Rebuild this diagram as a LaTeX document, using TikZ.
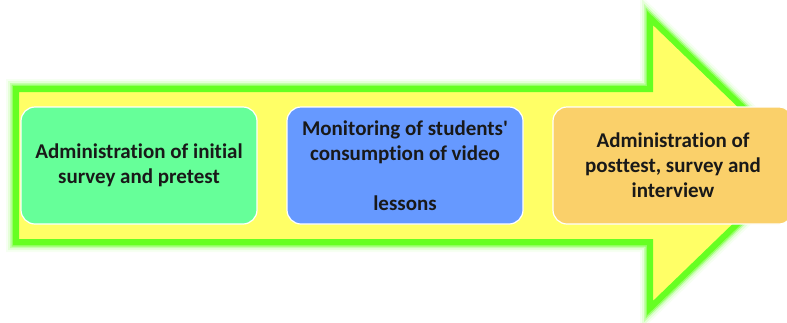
\documentclass[tikz,border=0pt]{standalone}
\usepackage{fontspec}
\setmainfont{Carlito}[Ligatures={NoCommon}]
\begin{document}
\begin{tikzpicture}[x=1pt,y=-1pt,
  glowline/.style={draw=arrowgreen, line join=miter},
  stagebox/.style={rounded corners=14pt, draw=white, line width=1.2pt,
    minimum width=236pt, minimum height=117pt, align=center,
    font=\bfseries\fontsize{21}{25}\selectfont, text=black!90, inner sep=0pt},
]
\definecolor{arrowgreen}{HTML}{66FF22}
\definecolor{arrowyellow}{HTML}{FFFF66}
\definecolor{boxgreen}{HTML}{66FF99}
\definecolor{boxblue}{HTML}{6699FF}
\definecolor{boxorange}{HTML}{FAD06A}
\useasboundingbox (0,0) rectangle (787,322);
\begin{scope}
\clip (0,0) rectangle (787,322);
% soft glow around the arrow outline
\def\arrowpath{(16,89) -- (650,89) -- (650,18) -- (800,163) -- (650,308) -- (650,242) -- (16,242) -- cycle}
\foreach \w/\o in {20/0.06,16/0.12,12/0.25,9/0.5}{
  \draw[glowline, line width=\w pt, opacity=\o] \arrowpath;
}
\fill[arrowyellow] \arrowpath;
\draw[glowline, line width=6pt] \arrowpath;
\fill[arrowyellow] (21,94) -- (655,94) -- (655,30) -- (793,163) -- (655,296) -- (655,237) -- (21,237) -- cycle;
\end{scope}
% the three stages
\node[stagebox, fill=boxgreen] (s1) at (139,165.5) {Administration of initial\\survey and pretest};
\node[stagebox, fill=boxblue] (s2) at (405,165.5) {Monitoring of students\textquotesingle\\consumption of video\\[25pt]lessons};
\node[stagebox, fill=boxorange, minimum width=240pt] (s3) at (673,165.5) {Administration of\\posttest, survey and\\interview};
\end{tikzpicture}
\end{document}
